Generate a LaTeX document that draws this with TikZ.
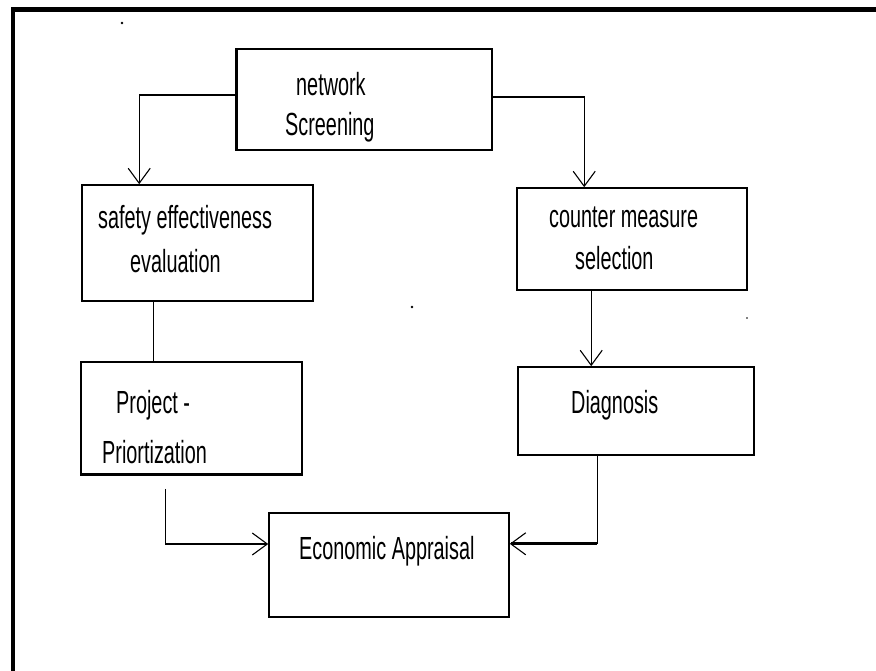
\documentclass[tikz,border=0pt]{standalone}
\usepackage{fontspec}
\setmainfont{Liberation Sans}[FakeStretch=0.62]
\usetikzlibrary{arrows.meta,calc}
\tikzset{
  box/.style={draw=black, line width=1.6pt, rectangle, inner sep=0pt},
  lbl/.style={font=\fontsize{32}{35}\selectfont, inner sep=0pt, anchor=west},
  conn/.style={draw=black, line width=1.3pt},
  arr/.style={conn, -{Straight Barb[length=15pt, width=22pt, line width=1.1pt]}},
  frameline/.style={draw=black, line width=4.5pt}
}
\begin{document}
\begin{tikzpicture}[x=1pt,y=-1pt]
\useasboundingbox (0,0) rectangle (876,671);
\fill[white] (0,0) rectangle (876,671);
% outer frame (left and top)
\draw[frameline] (13,680) -- (13,9.5) -- (880,9.5);

% boxes
\node[box, minimum width=255pt, minimum height=101pt] (net) at (364.5,99.5) {};
\node[box, minimum width=231pt, minimum height=116pt] (safe) at (197.5,243) {};
\node[box, minimum width=230pt, minimum height=102pt] (ctr) at (632,239) {};
\node[box, minimum width=221pt, minimum height=112pt] (proj) at (191.5,418) {};
\node[box, minimum width=236pt, minimum height=88pt] (diag) at (636,411) {};
\node[box, minimum width=240pt, minimum height=104pt] (econ) at (389,565) {};
% heavier sides as in the reference
\draw[line width=3pt] (net.north west) -- (net.south west);
\draw[line width=3pt] (proj.south west) -- (proj.south east);

% texts
\node[lbl] (t1) at (296,84) {network};
\node[lbl] (t2) at (285,127) {Screening};
\node[lbl] (t3) at (98,220) {safety effectiveness};
\node[lbl] (t4) at (130,261) {evaluation};
\node[lbl] (t5) at (549,217) {counter measure};
\node[lbl] (t6) at (575,258) {selection};
\node[lbl] (t7) at (116,405) {Project -};
\node[lbl] (t8) at (102,452) {Priortization};
\node[lbl] (t9) at (571,405) {Diagnosis};
\node[lbl] (t10) at (299,551) {Economic Appraisal};

% connectors
\draw[arr] (net.west |- 0,95) -| ($(safe.north west)+(58,0)$);
\draw[arr] (net.east |- 0,97) -| ($(ctr.north west)+(68,0)$);
\draw[conn] ($(safe.south west)+(72,0)$) -- ($(proj.north west)+(73,0)$);
\draw[arr] ($(ctr.south west)+(75,0)$) -- ($(diag.north west)+(74,0)$);
\draw[arr, shorten <=14pt] ($(proj.south west)+(85,0)$) |- (econ.west |- 0,544);
\draw[conn] ($(diag.south west)+(80,0)$) -- ($(diag.south west)+(80,88)$) coordinate (dcorner);
\draw[arr, line width=3pt] (dcorner) -- (econ.east |- dcorner);

% stray dots
\fill (122,23) circle (1.3pt);
\fill (412,307) circle (1.3pt);
\fill (747,318) circle (0.9pt);
\end{tikzpicture}
\end{document}
